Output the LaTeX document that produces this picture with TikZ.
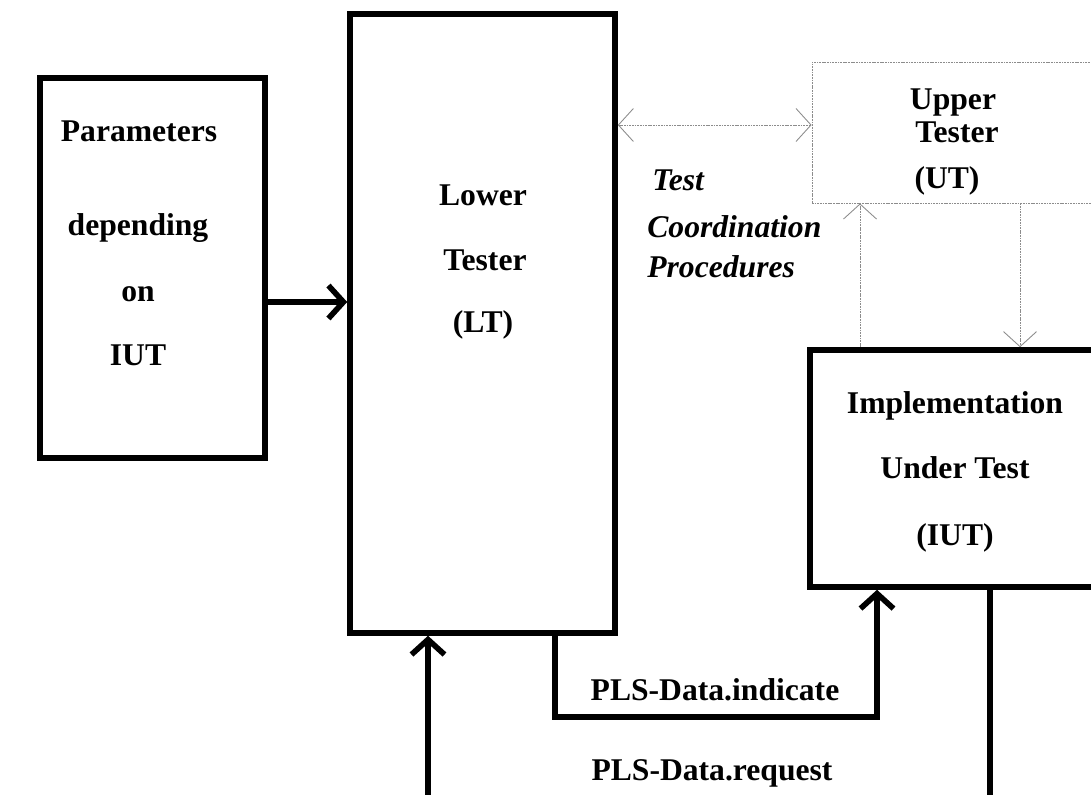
\documentclass[tikz,border=0pt]{standalone}
\usepackage{fontspec}
\setmainfont{Liberation Serif}
\usepackage{xcolor}
\usepackage{tikz}
\usetikzlibrary{arrows.meta, positioning, calc}
\definecolor{ut_gray}{RGB}{140, 140, 140}

\begin{document}
\begin{tikzpicture}[x=0.02cm, y=-0.02cm,
    font=\fontsize{18}{22}\selectfont\bfseries,
    thickbox/.style={draw, line width=3.2pt, inner sep=0pt},
    thinbox/.style={draw=ut_gray, line width=0.5pt, dash pattern=on 1pt off 0.5pt, inner sep=0pt},
    thickarr/.style={line width=3.2pt, -{Straight Barb[length=3mm, width=6.6mm]}},
    thinarr/.style={draw=ut_gray, line width=0.5pt, dash pattern=on 1pt off 0.5pt},
    lbl/.style={anchor=base, inner sep=0pt}]
  \useasboundingbox (0,0) rectangle (1091,794);
  \clip (0,0) rectangle (1091,794);

  % boxes
  \node[thickbox, minimum width=4.5cm, minimum height=7.6cm] (params) at (152.5,268) {};
  \node[thickbox, minimum width=5.3cm, minimum height=12.38cm] (lt) at (482.5,323.5) {};
  \node[thinbox, minimum width=6.56cm, minimum height=2.82cm] (ut) at (976,132.5) {};
  \node[thickbox, minimum width=6.2cm, minimum height=4.74cm] (iut) at (965,468.5) {};

  % texts
  \node[lbl] (p1) at (139,141) {Parameters};
  \node[lbl] (p2) at (138,235) {depending};
  \node[lbl] (p3) at (138,301) {on};
  \node[lbl] (p4) at (138,365) {IUT};
  \node[lbl] (lt1) at (483,205) {Lower};
  \node[lbl] (lt2) at (485,270) {Tester};
  \node[lbl] (lt3) at (483,332) {(LT)};
  \node[lbl] (ut1) at (953,110) {Upper};
  \node[lbl] (ut2) at (957,142) {Tester};
  \node[lbl] (ut3) at (947,188) {(UT)};
  \node[lbl, anchor=base west, font=\fontsize{18}{22}\selectfont\bfseries\itshape] (tc1) at (652,190) {Test};
  \node[lbl, anchor=base west, font=\fontsize{18}{22}\selectfont\bfseries\itshape] (tc2) at (647,237) {Coordination};
  \node[lbl, anchor=base west, font=\fontsize{18}{22}\selectfont\bfseries\itshape] (tc3) at (647,277) {Procedures};
  \node[lbl] (iut1) at (955,413) {Implementation};
  \node[lbl] (iut2) at (955,478) {Under Test};
  \node[lbl] (iut3) at (955,545) {(IUT)};
  \node[lbl] (ind) at (715,700) {PLS-Data.indicate};
  \node[lbl] (req) at (712,780) {PLS-Data.request};

  % connectors
  \draw[thickarr] (params.east |- 0,302) -- (lt.west |- 0,302);
  \draw[thinarr, {Straight Barb[length=3mm, width=6.6mm]}-{Straight Barb[length=3mm, width=6.6mm]}]
    (lt.east |- 0,125) -- (ut.west |- 0,125);
  \draw[thinarr, -{Straight Barb[length=3mm, width=6.6mm]}] (iut.north -| 860,0) -- (ut.south -| 860,0);
  \draw[thinarr, -{Straight Barb[length=3mm, width=6.6mm]}] (ut.south -| 1020,0) -- (iut.north -| 1020,0);
  \draw[thickarr] (lt.south -| 555,0) -- (555,717) -| (iut.south -| 877,0);
  \draw[thickarr] (iut.south -| 990,0) -- (990,840) -| (lt.south -| 428,0);
\end{tikzpicture}
\end{document}
